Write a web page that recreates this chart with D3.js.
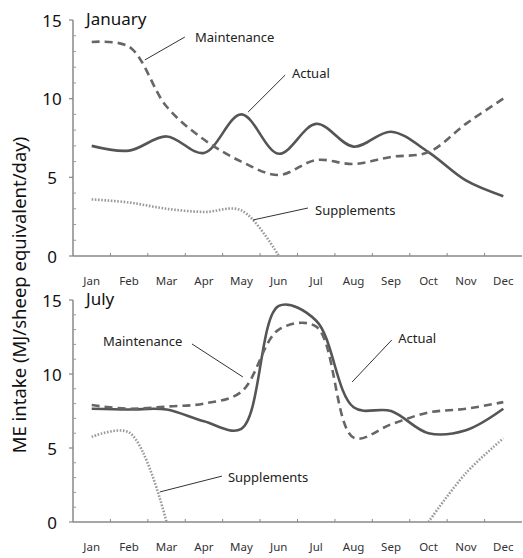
<!DOCTYPE html>
<html>
<head>
<meta charset="utf-8">
<script src="https://cdn.jsdelivr.net/npm/d3@7"></script>
<style>
  body { margin: 0; background: #fff; }
  svg { display: block; font-family: "Noto Sans", sans-serif; }
</style>
</head>
<body>
<svg id="chart" width="523" height="558"></svg>
<script>
// Month categories
var months = ["Jan", "Feb", "Mar", "Apr", "May", "Jun", "Jul", "Aug", "Sep", "Oct", "Nov", "Dec"];
var yTicks = [0, 5, 10, 15];

// January lambing
var janActual = [7.0, 6.7, 7.6, 6.55, 9.0, 6.5, 8.4, 6.95, 7.9, 6.6, 4.8, 3.8];
var janMaintenance = [13.6, 13.3, 9.5, 7.4, 6.0, 5.15, 6.1, 5.85, 6.3, 6.6, 8.4, 10.0];
var janSupplements = [3.6, 3.4, 3.0, 2.8, 2.9, 0, null, null, null, null, null, null];

// July lambing
var julActual = [7.65, 7.6, 7.6, 6.8, 6.3, 14.6, 13.6, 7.75, 7.5, 6.0, 6.2, 7.65];
var julMaintenance = [7.9, 7.65, 7.8, 8.0, 8.8, 13.0, 13.2, 5.7, 6.6, 7.4, 7.65, 8.1];
var julSupplements = [5.75, 6.05, 0, null, null, null, null, null, null, 0, 3.3, 5.65];

// Callouts: text anchor and leader line, in (month index, value) units
var janNotes = [
  { text: "Maintenance", tx: 2.76, tv: 13.92, from: [2.49, 13.92], to: [1.42, 12.46] },
  { text: "Actual", tx: 5.35, tv: 11.63, from: [5.17, 11.5], to: [4.18, 9.15] },
  { text: "Supplements", tx: 5.97, tv: 2.92, from: [5.78, 3.05], to: [4.31, 2.29] }
];
var julNotes = [
  { text: "Maintenance", tx: 0.30, tv: 12.23, from: [2.68, 12.03], to: [4.04, 9.8] },
  { text: "Actual", tx: 8.19, tv: 12.43, from: [8.02, 12.3], to: [6.96, 9.46] },
  { text: "Supplements", tx: 3.64, tv: 3.04, from: [3.48, 3.1], to: [1.82, 2.03] }
];

var svg = d3.select("#chart");
var left = 73, right = 522;

var x = d3.scaleBand().domain(months).range([left, right]);
// fractional month position, for callouts
var xf = function (i) { return left + (i + 0.5) * x.bandwidth(); };

var series = [
  { key: "actual", stroke: "#555", dash: null, width: 2.6 },
  { key: "maintenance", stroke: "#666", dash: "8,5", width: 2.6 },
  { key: "supplements", stroke: "#9a9a9a", dash: "1.6,1.6", width: 2.6 }
];

function drawPanel(opts) {
  var y = d3.scaleLinear().domain([0, 15]).range([opts.bottom, opts.top]);
  var g = svg.append("g");

  // y axis line and ticks
  g.append("line")
    .attr("x1", left).attr("x2", left)
    .attr("y1", y(15)).attr("y2", y(0))
    .attr("stroke", "#888").attr("stroke-width", 1.5);

  g.selectAll(".minor")
    .data(d3.range(1, 15).filter(function (v) { return v % 5 !== 0; }))
    .enter().append("line")
    .attr("x1", left).attr("x2", left + 3)
    .attr("y1", function (d) { return y(d); })
    .attr("y2", function (d) { return y(d); })
    .attr("stroke", "#999").attr("stroke-width", 1);

  g.selectAll(".major")
    .data(yTicks)
    .enter().append("line")
    .attr("x1", left - 4).attr("x2", left)
    .attr("y1", function (d) { return y(d); })
    .attr("y2", function (d) { return y(d); })
    .attr("stroke", "#888").attr("stroke-width", 1.2);

  g.selectAll(".ylab")
    .data(yTicks)
    .enter().append("text")
    .attr("x", 52)
    .attr("y", function (d) { return y(d); })
    .attr("text-anchor", "middle")
    .attr("dominant-baseline", "central")
    .attr("font-size", 17)
    .attr("fill", "#111")
    .text(function (d) { return d; });

  // x axis line, ticks at month boundaries
  g.append("line")
    .attr("x1", left).attr("x2", right)
    .attr("y1", y(0)).attr("y2", y(0))
    .attr("stroke", "#888").attr("stroke-width", 1.5);

  g.selectAll(".xtick")
    .data(months.slice(1))
    .enter().append("line")
    .attr("x1", function (d) { return x(d); })
    .attr("x2", function (d) { return x(d); })
    .attr("y1", y(0)).attr("y2", y(0) - 3)
    .attr("stroke", "#888").attr("stroke-width", 1);

  g.selectAll(".xlab")
    .data(months)
    .enter().append("text")
    .attr("x", function (d) { return x(d) + x.bandwidth() / 2; })
    .attr("y", y(0) + 24)
    .attr("text-anchor", "middle")
    .attr("dominant-baseline", "central")
    .attr("font-size", 11.5)
    .attr("fill", "#333")
    .text(function (d) { return d; });

  // panel title
  g.append("text")
    .attr("x", left + 13)
    .attr("y", y(15) - 2)
    .attr("dominant-baseline", "central")
    .attr("font-size", 17)
    .attr("fill", "#111")
    .text(opts.title);

  // lines
  var line = d3.line()
    .defined(function (d) { return d != null; })
    .x(function (d, i) { return x(months[i]) + x.bandwidth() / 2; })
    .y(function (d) { return y(d); })
    .curve(d3.curveCatmullRom.alpha(0.5));

  series.forEach(function (s) {
    g.append("path")
      .datum(opts.data[s.key])
      .attr("d", line)
      .attr("fill", "none")
      .attr("stroke", s.stroke)
      .attr("stroke-width", s.width)
      .attr("stroke-dasharray", s.dash);
  });

  // callouts
  opts.notes.forEach(function (n) {
    g.append("line")
      .attr("x1", xf(n.from[0])).attr("y1", y(n.from[1]))
      .attr("x2", xf(n.to[0])).attr("y2", y(n.to[1]))
      .attr("stroke", "#333").attr("stroke-width", 1);
    g.append("text")
      .attr("x", xf(n.tx))
      .attr("y", y(n.tv))
      .attr("dominant-baseline", "central")
      .attr("font-size", 13)
      .attr("fill", "#222")
      .text(n.text);
  });
}

drawPanel({
  title: "January", top: 20, bottom: 256, notes: janNotes,
  data: { actual: janActual, maintenance: janMaintenance, supplements: janSupplements }
});
drawPanel({
  title: "July", top: 300, bottom: 522, notes: julNotes,
  data: { actual: julActual, maintenance: julMaintenance, supplements: julSupplements }
});

// shared y axis title
svg.append("text")
  .attr("transform", "translate(18,295) rotate(-90)")
  .attr("text-anchor", "middle")
  .attr("dominant-baseline", "central")
  .attr("font-size", 18.5)
  .attr("fill", "#111")
  .text("ME intake (MJ/sheep equivalent/day)");
</script>
</body>
</html>
